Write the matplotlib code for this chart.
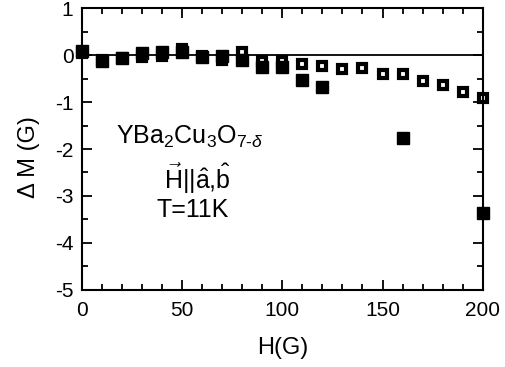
import matplotlib.pyplot as plt
from matplotlib.ticker import MultipleLocator

plt.rcParams["font.family"] = ["Liberation Sans", "DejaVu Sans"]
plt.rcParams["mathtext.fontset"] = "custom"
plt.rcParams["mathtext.rm"] = "Liberation Sans"
plt.rcParams["mathtext.it"] = "Liberation Sans:italic"
plt.rcParams["axes.unicode_minus"] = False

# filled squares
h_filled = [0, 10, 20, 30, 40, 50, 60, 70, 80, 90, 100, 110, 120, 160, 200]
dm_filled = [0.09, -0.12, -0.07, 0.04, 0.07, 0.07, -0.04, -0.03, -0.1,
             -0.25, -0.25, -0.53, -0.69, -1.77, -3.37]

# open squares
h_open = [0, 10, 20, 30, 40, 50, 60, 70, 80, 90, 100, 110, 120, 130, 140,
          150, 160, 170, 180, 190, 200]
dm_open = [0.05, -0.1, -0.07, -0.05, -0.03, 0.12, -0.03, -0.1, 0.07, -0.12,
           -0.12, -0.2, -0.23, -0.3, -0.27, -0.4, -0.4, -0.56, -0.63, -0.79,
           -0.91]

fig = plt.figure(figsize=(5.05, 3.67), dpi=100)
ax = fig.add_axes([0.162, 0.210, 0.794, 0.768])

ax.axhline(0, color="black", lw=1.3, zorder=1)
ax.plot(h_open, dm_open, "s", mfc="white", mec="black", mew=3, ms=6,
        zorder=2, clip_on=False)
ax.plot(h_filled, dm_filled, "s", color="black", ms=8, zorder=3,
        clip_on=False)

ax.set_xlim(0, 200)
ax.set_ylim(-5, 1)
ax.xaxis.set_major_locator(MultipleLocator(50))
ax.xaxis.set_minor_locator(MultipleLocator(10))
ax.yaxis.set_major_locator(MultipleLocator(1))
ax.yaxis.set_minor_locator(MultipleLocator(0.5))
ax.tick_params(which="both", direction="in", top=True, right=True,
               width=1.3, labelsize=15, pad=6)
ax.tick_params(axis="x", pad=8)
ax.tick_params(which="major", length=7)
ax.tick_params(which="minor", length=4)
for s in ax.spines.values():
    s.set_linewidth(1.5)

ax.set_xlabel("H(G)", fontsize=17, labelpad=12)
ax.set_ylabel("Δ M (G)", fontsize=17)
ax.yaxis.set_label_coords(-0.105, 0.47)

ax.text(0.27, 0.543, r"YBa$_2$Cu$_3$O$_{7\text{-}\delta}$", transform=ax.transAxes,
        ha="center", va="center", fontsize=18)
ax.text(0.287, 0.395, r"$\vec{\mathrm{H}}$||$\hat{\mathrm{a}}$,$\hat{\mathrm{b}}$",
        transform=ax.transAxes, ha="center", va="center", fontsize=18)
ax.text(0.277, 0.284, "T=11K", transform=ax.transAxes, ha="center",
        va="center", fontsize=18)

fig.savefig("out.png", dpi=100)
